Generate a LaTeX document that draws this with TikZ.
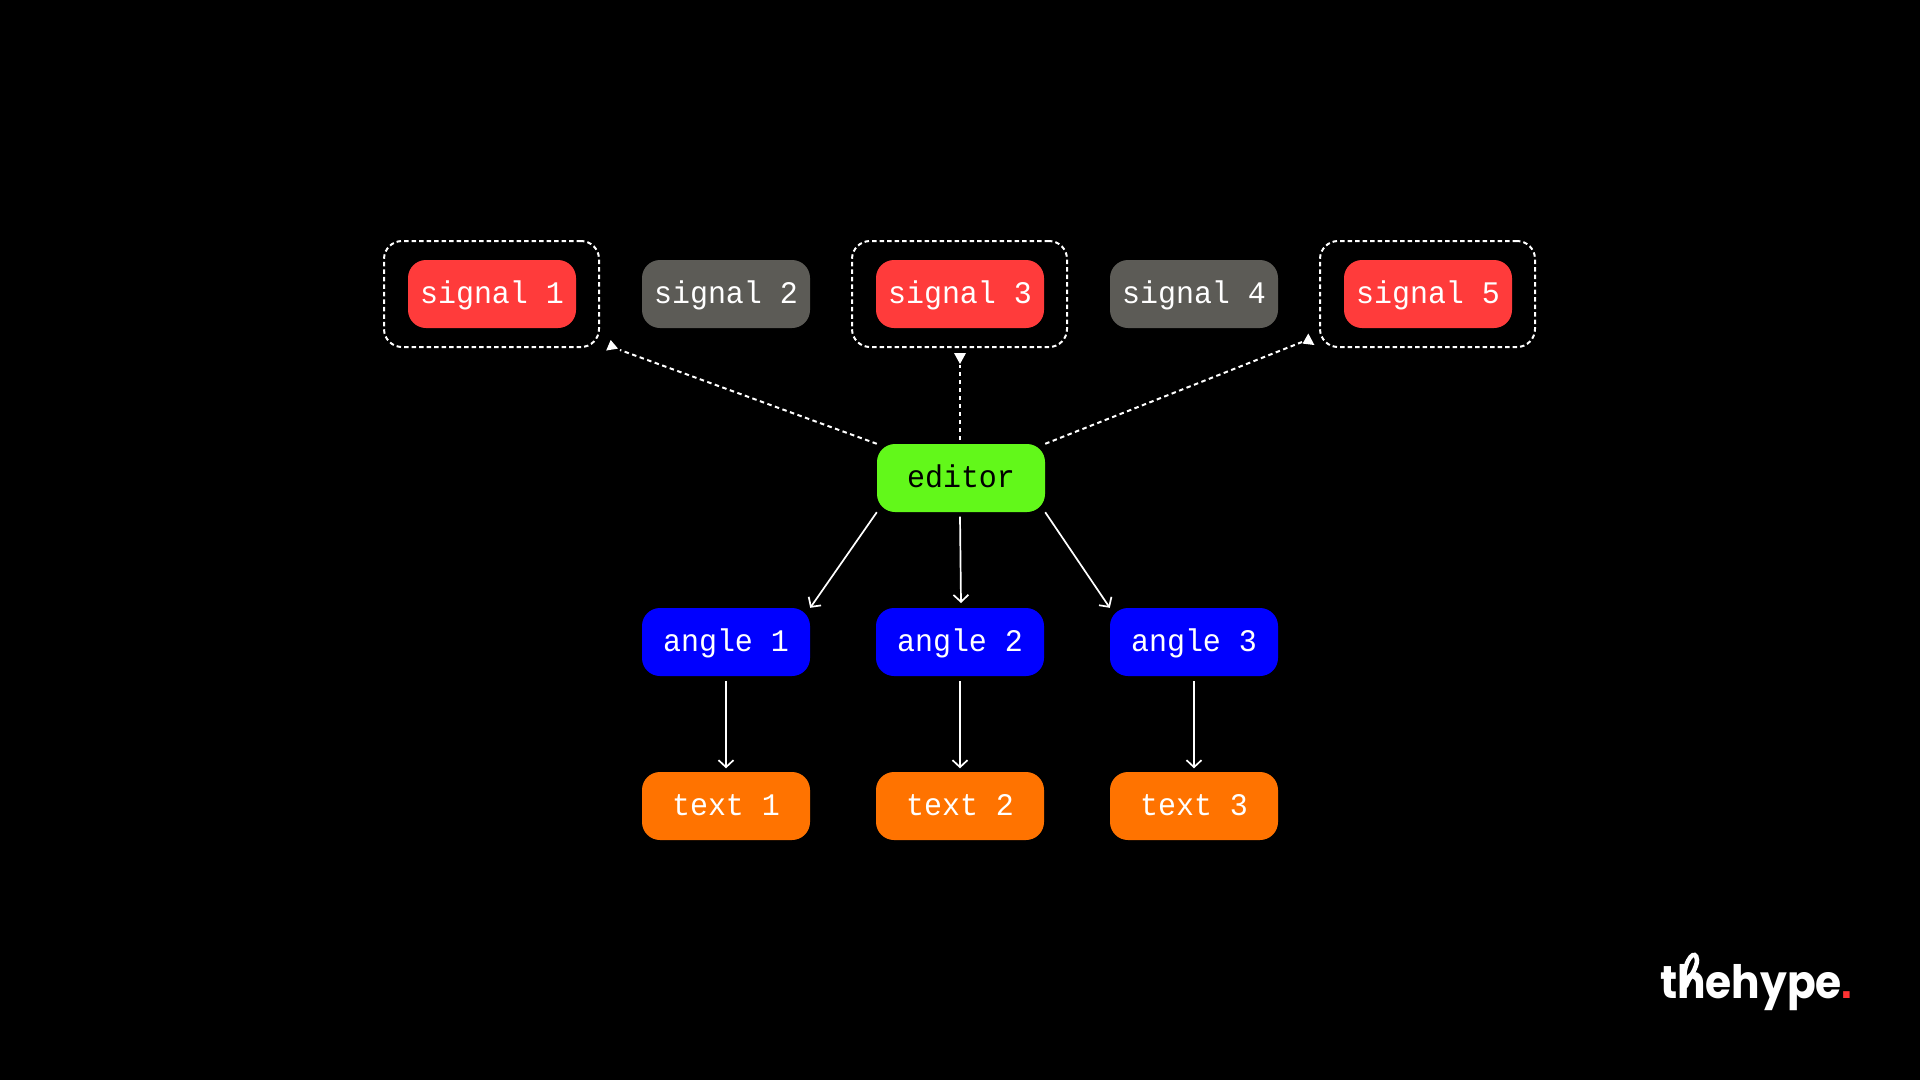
\documentclass[tikz,border=0pt]{standalone}
\usepackage{fontspec}
\setmonofont[FakeStretch=0.955]{Liberation Mono}
\newfontfamily\logofont[FakeStretch=0.92]{Poppins}
\newfontfamily\dotfont{Liberation Sans}
\usetikzlibrary{arrows.meta}
\definecolor{sigred}{HTML}{FF3B3B}
\definecolor{siggrey}{HTML}{5C5B56}
\definecolor{edgreen}{HTML}{62F81A}
\definecolor{angblue}{HTML}{0000FF}
\definecolor{txtorange}{HTML}{FF7300}
\definecolor{logored}{HTML}{FF3333}
\tikzset{
  x=1pt,y=-1pt,
  pill/.style={rounded corners=18pt,minimum width=168pt,minimum height=68pt,inner sep=0pt,
    text height=20.6pt,text depth=1.4pt,font=\fontsize{31.4}{32}\selectfont\ttfamily,text=white},
  sigred/.style={pill,fill=sigred},
  siggrey/.style={pill,fill=siggrey},
  edbox/.style={pill,fill=edgreen,text=black},
  angbox/.style={pill,fill=angblue},
  txtbox/.style={pill,fill=txtorange},
  groupbox/.style={draw=white,line width=2pt,dash pattern=on 4.5pt off 3pt,rounded corners=18pt,
    minimum width=215pt,minimum height=106pt,inner sep=0pt},
  dashlink/.style={draw=white,line width=2pt,dash pattern=on 4.5pt off 3.5pt},
  solidlink/.style={draw=white,line width=1.7pt,-{Straight Barb[length=7pt,width=15pt,line width=1.7pt]}},
  headtri/.style={fill=white,draw=none},
  logoloop/.style={draw=white,line width=4.5pt,line cap=round}
}
\begin{document}
\begin{tikzpicture}
\useasboundingbox[fill=black] (0,0) rectangle (1920,1080);
% group frames
\node[groupbox] (g1) at (491.5,294) {};
\node[groupbox] (g3) at (959.5,294) {};
\node[groupbox] (g5) at (1427.5,294) {};
% signals
\node[sigred] (s1) at (492,294) {signal 1};
\node[siggrey] (s2) at (726,294) {signal 2};
\node[sigred] (s3) at (960,294) {signal 3};
\node[siggrey] (s4) at (1194,294) {signal 4};
\node[sigred] (s5) at (1428,294) {signal 5};
% editor
\node[edbox] (ed) at (961,478) {editor};
% angles
\node[angbox] (a1) at (726,642) {angle 1};
\node[angbox] (a2) at (960,642) {angle 2};
\node[angbox] (a3) at (1194,642) {angle 3};
% texts
\node[txtbox] (t1) at (726,806) {text 1};
\node[txtbox] (t2) at (960,806) {text 2};
\node[txtbox] (t3) at (1194,806) {text 3};
% dashed links with their triangular heads
\coordinate (h1) at (620,350);
\coordinate (h3) at (960,365);
\coordinate (h5) at (1302,342);
\coordinate (e3) at (960,440);
\draw[dashlink] (ed.north west) -- (h1);
\draw[dashlink] (e3) -- (h3);
\draw[dashlink] (ed.north east) -- (h5);
\fill[headtri] (610.7,340) -- (606.2,350.5) -- (618,348.6) -- cycle;
\fill[headtri] (954,353) -- (966,353) -- (960,364) -- cycle;
\fill[headtri] (1308.3,333.5) -- (1302.6,343.6) -- (1314.4,345) -- cycle;
% solid links
\coordinate (e2) at (960,516.7);
\coordinate (a2top) at (961,603);
\draw[solidlink] (ed.south west) -- (a1.north east);
\draw[solidlink] (e2) -- (a2top);
\draw[solidlink] (ed.south east) -- (a3.north west);
\draw[solidlink,shorten <=5pt,shorten >=3.5pt] (a1.south) -- (t1.north);
\draw[solidlink,shorten <=5pt,shorten >=3.5pt] (a2.south) -- (t2.north);
\draw[solidlink,shorten <=5pt,shorten >=3.5pt] (a3.south) -- (t3.north);
% logo
\node[anchor=base west,inner sep=0pt,text=white,font=\fontsize{46}{46}\selectfont\logofont\bfseries] (logo) at (1660,998) {thehype};
\draw[logoloop] (1684,978) .. controls (1685,958) and (1696,948) .. (1697,960) .. controls (1697,968) and (1690,976) .. (1686,986);
\node[anchor=base west,inner sep=0pt,text=logored,font=\fontsize{46}{46}\selectfont\dotfont\bfseries] (dot) at (1840,998) {.};
\end{tikzpicture}
\end{document}
